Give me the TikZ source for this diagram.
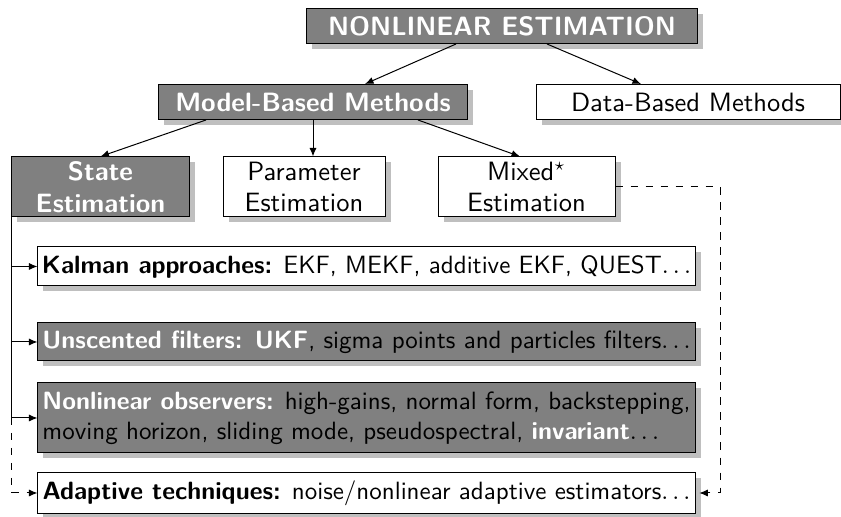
\documentclass[tikz,border=0pt]{standalone}
\usetikzlibrary{shadows,arrows.meta}
\renewcommand{\familydefault}{\sfdefault}
\newcommand{\hl}[1]{\textcolor{white}{\textbf{#1}}}
\begin{document}
\begin{tikzpicture}[x=0.4pt,y=-0.4pt,
    box/.style={draw,fill=white,inner sep=0pt,align=center,
      drop shadow={shadow xshift=2.2pt,shadow yshift=-2.2pt,fill=black!25,opacity=1}},
    darkbox/.style={box,fill=gray,text=white,execute at begin node=\bfseries},
    headbox/.style={minimum height=14pt,font=\fontsize{10.6}{12.7}\selectfont},
    kindbox/.style={minimum width=#1,minimum height=24pt,font=\fontsize{10.6}{12.7}\selectfont},
    listbox/.style={box,minimum width=262.8pt,minimum height=#1,align=left},
    link/.style={-{Latex[length=3.4pt,width=2.8pt]}}]
      \useasboundingbox (0,0) rectangle (841,517);
      \draw
        (502,26) node[darkbox,headbox,minimum width=156pt] (top){NONLINEAR ESTIMATION}
        (313,102) node[darkbox,headbox,minimum width=123.2pt] (model){Model-Based Methods}
        (688,102) node[box,headbox,minimum width=121.6pt] (data){Data-Based Methods}
        (100.5,187) node[darkbox,kindbox=70.8pt] (state){State\\Estimation}
        (304,187) node[box,kindbox=64.8pt] (param){Parameter\\Estimation}
        (526.5,187) node[box,kindbox=70.8pt] (mixed){Mixed$^\star$\\Estimation}
        (366.5,266.5) node[listbox=15.6pt] (kalman){\textbf{Kalman approaches:} EKF, MEKF, additive EKF, QUEST$\ldots$}
        (366.5,342) node[listbox=15.2pt,fill=gray] (unsc){\hl{Unscented filters: UKF}, sigma points and particles filters$\ldots$}
        (366.5,418) node[listbox=28pt,fill=gray] (nonlin){\hl{Nonlinear observers:} high-gains, normal form, backstepping,\\moving horizon, sliding mode, pseudospectral, \hl{invariant}$\ldots$}
        (366.5,493) node[listbox=16.4pt] (adapt){\textbf{Adaptive techniques:} noise/nonlinear adaptive estimators$\ldots$};
      \coordinate (rt) at (720,191);
      \begin{scope}[link]
        \draw ([xshift=-18.4pt]top.south) to ([xshift=20.8pt]model.north);
        \draw ([xshift=18pt]top.south) to ([xshift=-18.8pt]data.north);
        \draw ([xshift=-42.8pt]model.south) to (state.north);
        \draw (model.south) to (model.south |- param.north);
        \draw ([xshift=42pt]model.south) to ([xshift=-2.6pt]mixed.north);
        \draw[-] (state.south west) to (state.south west |- nonlin.west);
        \draw (state.south west |- kalman.west) to (kalman.west);
        \draw (state.south west |- unsc.west) to (unsc.west);
        \draw (state.south west |- nonlin.west) to (nonlin.west);
        \draw[dashed] (state.south west |- nonlin.west) -- (state.south west |- adapt.west) -- (adapt.west);
        \draw[dashed] (mixed.east) -- (mixed.east -| rt) -- (rt |- adapt.east) -- ([xshift=1.5pt]adapt.east);
      \end{scope}
    \end{tikzpicture}
\end{document}
